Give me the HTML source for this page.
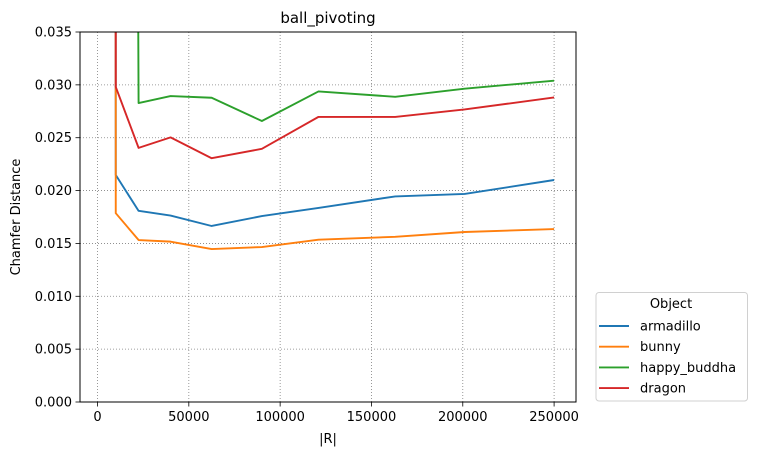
<!DOCTYPE html>
<html><head><meta charset="utf-8"><style>
body{margin:0;background:#fff;}
svg text{font-family:"DejaVu Sans","Liberation Sans",sans-serif;}
</style></head><body>
<svg id="chart" width="757" height="455" xmlns="http://www.w3.org/2000/svg">
<defs><clipPath id="clip"><rect x="80" y="32" width="496" height="370"/></clipPath></defs>
<rect x="0" y="0" width="757" height="455" fill="#fff"/>
<g id="grid"></g>
<g id="series" clip-path="url(#clip)"></g>
<rect x="80" y="32" width="496" height="370" fill="none" stroke="#000" stroke-width="1"/>
<g id="axes"></g>
<text x="328" y="23" text-anchor="middle" font-size="15">ball_pivoting</text>
<text x="328" y="443" text-anchor="middle" font-size="13">|R|</text>
<text x="20" y="217" text-anchor="middle" font-size="13" transform="rotate(-90 20 217)">Chamfer Distance</text>
<g id="legend">
<rect x="596" y="292.5" width="151.5" height="108.5" rx="3" fill="#fff" stroke="#d0d0d0"/>
<text x="671" y="308" text-anchor="middle" font-size="13">Object</text>
</g>
</svg>
<script>
const xValues=[8800,10000,22500,40000,62500,90000,121000,163000,201000,250000];
const seriesNames=["armadillo","bunny","happy_buddha","dragon"];
const armadillo=[0.6,0.02147,0.01808,0.01764,0.01665,0.01759,0.01836,0.01945,0.01968,0.02100];
const bunny=[0.6,0.01786,0.01532,0.01517,0.01447,0.01466,0.01535,0.01563,0.01608,0.01636];
const happyBuddha=[0.6,0.5,0.02828,0.02894,0.02878,0.02658,0.02938,0.02887,0.02964,0.03039];
const dragon=[0.6,0.02980,0.02404,0.02503,0.02306,0.02395,0.02697,0.02697,0.02767,0.02881];
const xTicks=[0,50000,100000,150000,200000,250000];
const yTicks=[0,0.005,0.01,0.015,0.02,0.025,0.03,0.035];
const yTickLabels=["0.000","0.005","0.010","0.015","0.020","0.025","0.030","0.035"];
const colors=["#1f77b4","#ff7f0e","#2ca02c","#d62728"];
const allSeries=[armadillo,bunny,happyBuddha,dragon];
const NS="http://www.w3.org/2000/svg";
function xs(v){return 97.5+v*0.0018264;}
function ys(v){return 402-v*(370/0.035);}
function mk(t,a,p){const e=document.createElementNS(NS,t);for(const k in a)e.setAttribute(k,a[k]);p.appendChild(e);return e;}
const grid=document.getElementById('grid'),axes=document.getElementById('axes'),ser=document.getElementById('series'),leg=document.getElementById('legend');
xTicks.forEach(t=>{const x=xs(t);
const g=mk('line',{x1:x,x2:x,y1:32,y2:402,stroke:'#808080','stroke-width':0.8,'stroke-dasharray':'1,2'},grid);


const tk=mk('line',{x1:x,x2:x,y1:402,y2:406.5,stroke:'#000','stroke-width':0.8},axes);


const tx=mk('text',{x:x,y:421,'text-anchor':'middle','font-size':13},axes);tx.textContent=String(t);

});
yTicks.forEach((t,i)=>{const y=ys(t);
const g=mk('line',{x1:80,x2:576,y1:y,y2:y,stroke:'#808080','stroke-width':0.8,'stroke-dasharray':'1,2'},grid);


const tk=mk('line',{x1:75.5,x2:80,y1:y,y2:y,stroke:'#000','stroke-width':0.8},axes);


const tx=mk('text',{x:72,y:y+4.5,'text-anchor':'end','font-size':13},axes);tx.textContent=yTickLabels[i];

});
allSeries.forEach((s,i)=>{const pts=s.map((v,j)=>xs(xValues[j]).toFixed(2)+','+ys(v).toFixed(2)).join(' ');
const pl=mk('polyline',{points:pts,fill:'none',stroke:colors[i],'stroke-width':1.9,'stroke-linejoin':'round'},ser);


const y=326+i*20.7;
const ll=mk('line',{x1:599,x2:629,y1:y,y2:y,stroke:colors[i],'stroke-width':1.9},leg);


const lt=mk('text',{x:640,y:y+4.5,'font-size':13},leg);lt.textContent=seriesNames[i];

});
</script>
</body></html>
